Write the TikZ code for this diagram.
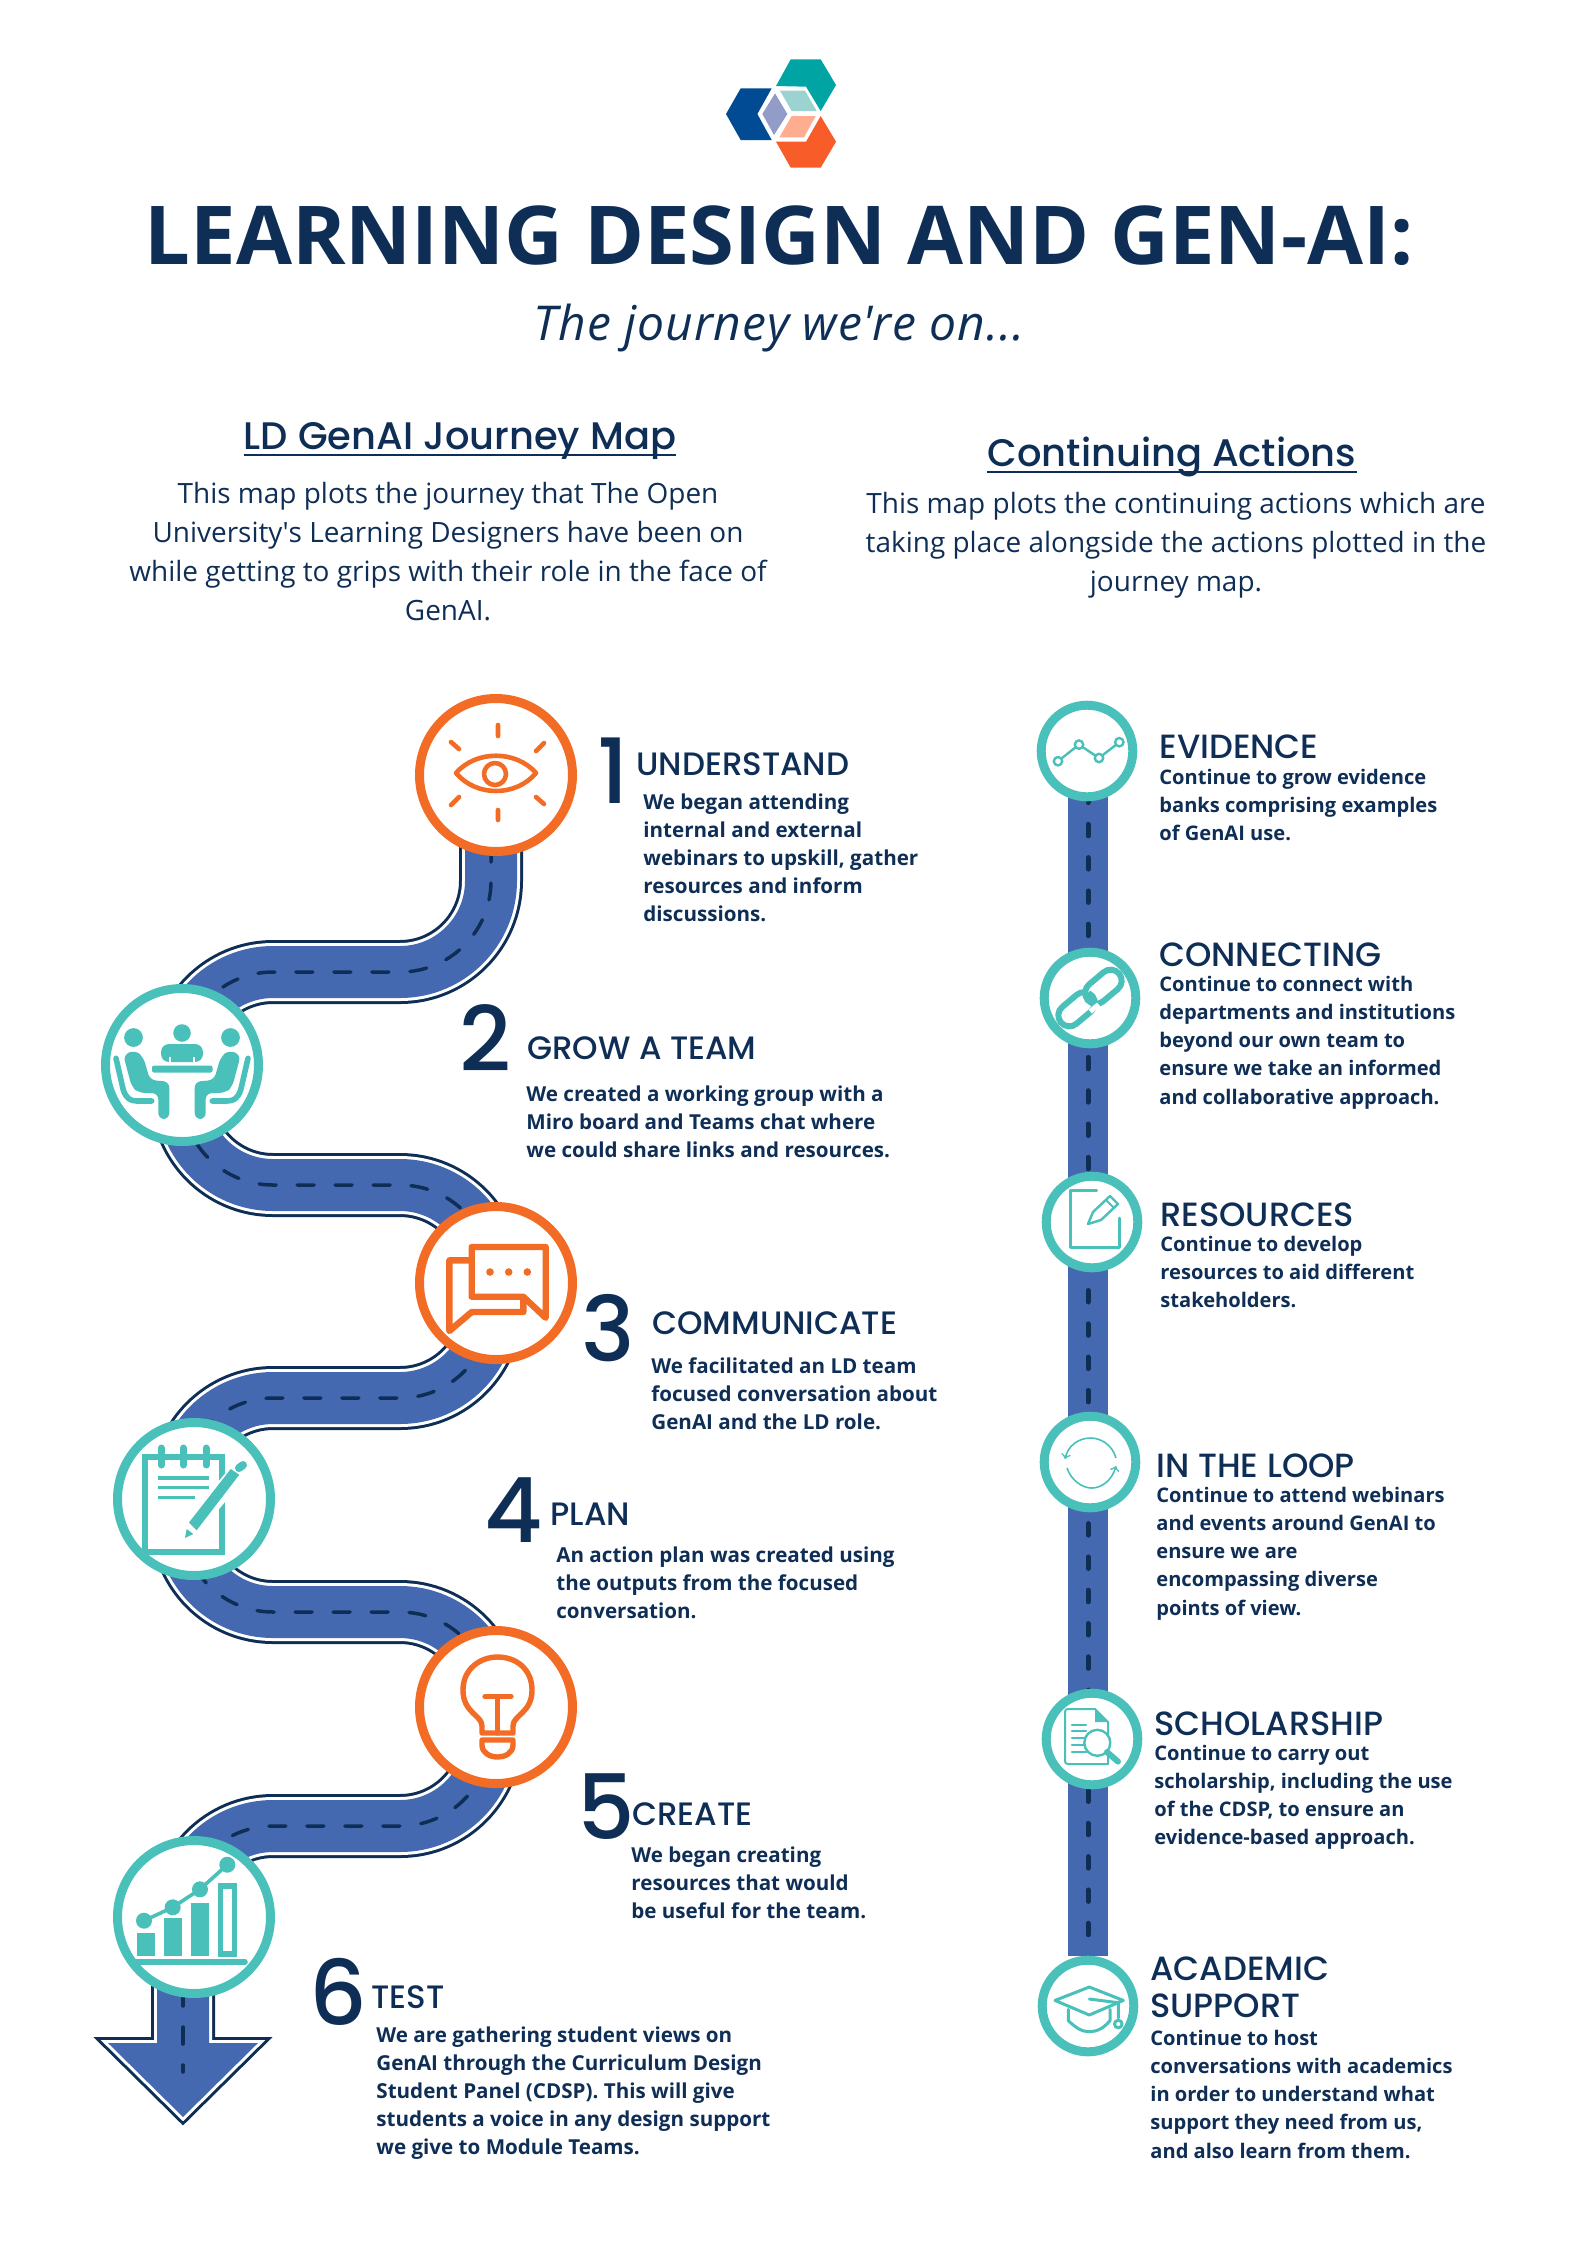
\documentclass[tikz,border=0pt]{standalone}
\usepackage{fontspec}
\setmainfont{Open Sans}
\newfontfamily\headfont{Poppins Medium}
\usetikzlibrary{backgrounds}
\definecolor{navy}{HTML}{0F2E56}
\definecolor{roadblue}{HTML}{4469B0}
\definecolor{tealring}{HTML}{4AC0BA}
\definecolor{orangering}{HTML}{F36C25}

\begin{document}
\begin{tikzpicture}[x=0.5pt,y=-0.5pt,
  bigstop/.style={circle,draw,fill=white,line width=4.5pt,minimum size=76.5pt,inner sep=0pt},
  smallstop/.style={circle,draw=tealring,fill=white,line width=4.5pt,minimum size=45.8pt,inner sep=0pt},
  road/.style={draw=navy,line width=32pt,rounded corners=45.5pt,
    postaction={draw=white,line width=29pt},postaction={draw=roadblue,line width=26pt}},
  lane/.style={draw=navy,line width=1.75pt,line cap=round,rounded corners=45.5pt},
  pointer/.style={draw=navy,line width=6pt,line join=miter,
    postaction={draw=white,line width=3pt},postaction={fill=roadblue,draw=none}},
  digit/.style={text=navy,inner sep=0pt,anchor=base west,font=\headfont\fontsize{45}{45}\selectfont},
  head/.style={text=navy,inner sep=0pt,anchor=base west,align=left,font=\headfont\fontsize{16.2}{18.5}\selectfont},
  sidehead/.style={head,font=\headfont\fontsize{16.8}{18.5}\selectfont},
  blurb/.style={text=navy,inner sep=0pt,anchor=north west,align=left,font=\bfseries\fontsize{10.3}{14.05}\selectfont},
  sideblurb/.style={blurb,font=\bfseries\fontsize{10.05}{14.05}\selectfont},
  intro/.style={text=navy,inner sep=0pt,anchor=north,align=center,font=\fontsize{13.97}{19.55}\selectfont},
  maphead/.style={text=navy,inner sep=0pt,anchor=base,font=\headfont\fontsize{19.2}{22}\selectfont},
  ic/.style={line cap=round,line join=round}]
  \useasboundingbox (0,0) rectangle (1587,2245);

  % logo
  \begin{scope}[shift={(700,40)},x=0.1667pt,y=-0.1667pt]
    \fill[color={rgb,255:red,0;green,165;blue,163}] (228,138) -- (272,58) -- (362,58) -- (408,135) -- (362,213) -- (318,140) -- cycle;
    \fill[color={rgb,255:red,248;green,93;blue,41}] (228,305) -- (272,383) -- (362,383) -- (408,305) -- (362,228) -- (318,305) -- cycle;
    \fill[color={rgb,255:red,0;green,75;blue,147}] (122,145) -- (215,145) -- (172,222) -- (215,300) -- (122,300) -- (78,222) -- cycle;
    \fill[color={rgb,255:red,145;green,156;blue,201}] (225,160) -- (262,222) -- (222,285) -- (187,222) -- cycle;
    \fill[color={rgb,255:red,156;green,211;blue,209}] (240,152) -- (315,152) -- (350,213) -- (275,213) -- cycle;
    \fill[color={rgb,255:red,255;green,173;blue,143}] (275,228) -- (347,228) -- (312,292) -- (238,292) -- cycle;
  \end{scope}

  \node(title)[text=navy,inner sep=0pt,anchor=base,font=\bfseries\fontsize{40.6}{44}\selectfont] at (779,264) {LEARNING DESIGN AND GEN-AI:};
  \node(subtitle)[text=navy,inner sep=0pt,anchor=base,font=\itshape\fontsize{24}{26}\selectfont\addfontfeature{LetterSpace=2}] at (779,340) {The journey we\textquotesingle re on...};

  \node(maptitle)[maphead] at (460,449) {LD GenAI Journey Map};
  \draw[navy,line width=1.1pt] ([yshift=-3pt]maptitle.base west) -- ([yshift=-3pt]maptitle.base east);
  \node(mapintro)[intro] at (448,482) {This map plots the journey that The Open\\University\textquotesingle s Learning Designers have been on\\while getting to grips with their role in the face of\\GenAI.};
  \node(actionstitle)[maphead] at (1172,466) {Continuing Actions};
  \draw[navy,line width=1.1pt] ([yshift=-3pt]actionstitle.base west) -- ([yshift=-3pt]actionstitle.base east);
  \node(actionsintro)[intro] at (1176,492) {This map plots the continuing actions which are\\taking place alongside the actions plotted in the\\journey map.};

  % journey stops
  \node(stop1)[bigstop,draw=orangering] at (496,775) {};
  \node(stop2)[bigstop,draw=tealring] at (182,1065) {};
  \node(stop3)[bigstop,draw=orangering] at (496,1283) {};
  \node(stop4)[bigstop,draw=tealring] at (194,1499) {};
  \node(stop5)[bigstop,draw=orangering] at (496,1707) {};
  \node(stop6)[bigstop,draw=tealring] at (194,1917) {};

  \begin{scope}[on background layer]
    \draw[road] (stop1.center) ++(-5,0) -- ++(0,197) -- ++(-309,0) -- ++(0,93);
    \draw[road] (stop2.center) -- ++(0,120) -- ++(309,0) -- ++(0,98);
    \draw[road] (stop3.center) ++(-5,0) -- ++(0,115) -- ++(-309,0) -- ++(0,101);
    \draw[road] (stop4.center) ++(-12,0) -- ++(0,113) -- ++(309,0) -- ++(0,95);
    \draw[road] (stop5.center) ++(-5,0) -- ++(0,119) -- ++(-309,0) -- ++(0,91);
    \draw[lane,dash pattern=on 8.5pt off 10.5pt,dash phase=3pt] (stop1.center) ++(-5,0) -- ++(0,197) -- ++(-309,0) -- ++(0,93);
    \draw[lane,dash pattern=on 8.5pt off 10.5pt,dash phase=16pt] (stop2.center) -- ++(0,120) -- ++(309,0) -- ++(0,98);
    \draw[lane,dash pattern=on 8.5pt off 10.5pt,dash phase=10pt] (stop3.center) ++(-5,0) -- ++(0,115) -- ++(-309,0) -- ++(0,101);
    \draw[lane,dash pattern=on 8.5pt off 10.5pt,dash phase=1.5pt] (stop4.center) ++(-12,0) -- ++(0,113) -- ++(309,0) -- ++(0,95);
    \draw[lane,dash pattern=on 8.5pt off 10.5pt,dash phase=9.5pt] (stop5.center) ++(-5,0) -- ++(0,119) -- ++(-309,0) -- ++(0,91);
    \draw[pointer] (157,1950) -- (157,2043) -- (108,2043) -- (183,2117) -- (258,2043) -- (209,2043) -- (209,1950);
    \draw[lane,dash pattern=on 8.5pt off 10.5pt,dash phase=2pt] (stop6.center) ++(-11,0) -- (183,2072);
  \end{scope}

  % continuing stops
  \node(cont1)[smallstop] at (1087,751) {};
  \node(cont2)[smallstop] at (1090,998) {};
  \node(cont3)[smallstop] at (1092,1222) {};
  \node(cont4)[smallstop] at (1090,1462) {};
  \node(cont5)[smallstop] at (1092,1739) {};
  \node(cont6)[smallstop] at (1088,2006) {};

  \begin{scope}[on background layer]
    \draw[roadblue,line width=20pt] (cont1.center -| cont6.center) -- (cont6);
    \draw[navy,line width=2.5pt,line cap=round,dash pattern=on 5.75pt off 10.9pt,dash phase=13.3pt] (cont1.center -| cont6.center) -- (cont6);
  \end{scope}

  % eye
  \begin{scope}[shift={(stop1)},orangering,ic,line width=2.3pt]
    \draw (-40,-2) .. controls (-20,-25) and (20,-25) .. (40,-2) .. controls (20,22) and (-20,22) .. cycle;
    \draw (-1,-1) circle[radius=5.5pt];
    \draw (2,-50) -- (2,-39) (2,35) -- (2,45) (-45,-33) -- (-37,-26) (48,-32) -- (40,-24) (-37,22) -- (-45,30) (40,22) -- (48,29);
  \end{scope}

  % meeting
  \begin{scope}[shift={(stop2)},tealring]
    \fill (0,-32) circle[radius=4.4pt];
    \fill[rounded corners=4pt] (-21,-3) -- (-21,-21) -- (21,-21) -- (21,-3) -- cycle;
    \draw[white,line width=0.8pt] (-12,-3) -- (-12,-8) (12,-3) -- (12,-8);
    \fill[rounded corners=1pt] (-30,0.5) rectangle (30.5,7.5);
    \foreach \s in {1,-1}{
      \begin{scope}[xscale=\s]
        \fill (-48.5,-27.5) circle[radius=4.7pt];
        \fill[rounded corners=3pt] (-58.7,-10) -- (-47,-15) -- (-38.7,-8) -- (-32,15) -- (-12.7,16.7) -- (-12.7,54) -- (-23.7,54) -- (-23.7,28.3) -- (-43.7,27.7) -- (-50.3,21.7) -- cycle;
        \draw[ic,line width=2.8pt] (-66,-6.7) -- (-58.7,25) .. controls (-56,33) and (-52,36) .. (-45,36) -- (-30.3,36);
      \end{scope}
    }
  \end{scope}

  % speech bubbles
  \begin{scope}[shift={(stop3)},orangering,ic,line width=3.2pt]
    \draw (-24.3,-36) -- (49.7,-36) -- (49.7,34.8) -- (27.3,13.7) -- (-24.3,13.7) -- cycle;
    \draw (-27.7,-22.6) -- (-46.7,-22.6) -- (-46.7,48) -- (-24.3,29) -- (27.3,29) -- (27.3,17.5);
    \foreach \x in {-6,12.7,31.3} \fill (\x,-11) circle[radius=1.9pt];
  \end{scope}

  % notepad
  \begin{scope}[shift={(stop4)},tealring]
    \draw[line width=2.8pt] (-49,-42) rectangle (28,53);
    \draw[white,line width=9pt] (-3,30) -- (44,-27);
    \foreach \x in {-32.7,-10.7,12} \draw[ic,line width=3.5pt] (\x,-51) -- (\x,-34);
    \draw[line width=1.6pt] (-35.7,-21) -- (15.3,-21) (-35.7,-11.3) -- (15.3,-11.3) (-35.7,-1.3) -- (0.7,-1.3);
    \fill (-5,23.5) -- (2.7,31.2) -- (45.3,-24.3) -- (36.7,-30) -- cycle;
    \fill (-9,39) -- (-7.3,30) -- (-0.7,35) -- cycle;
    \draw[ic,line width=4pt] (45,-31) -- (49,-34);
  \end{scope}

  % bulb
  \begin{scope}[shift={(stop5)},orangering,ic,line width=2.7pt]
    \draw (-14,26) -- (-14,19) .. controls (-14,8) and (-33,6) .. (-33,-17) .. controls (-33,-38) and (-16,-50) .. (1.7,-50) .. controls (20,-50) and (36,-38) .. (36,-17) .. controls (36,6) and (17,8) .. (17,19) -- (17,26) -- cycle;
    \draw (-11,-10.4) -- (15,-10.4) (1.7,-10.4) -- (1.7,26);
    \draw (-14,33) -- (17,33) -- (17,38) .. controls (17,46) and (9,50) .. (1.7,50) .. controls (-6,50) and (-14,46) .. (-14,38) -- cycle;
  \end{scope}

  % bar chart
  \begin{scope}[shift={(stop6)},tealring]
    \fill (-57.3,15.7) rectangle (-39,39);
    \fill (-30,1.3) rectangle (-12,39);
    \fill (-3,-13.7) rectangle (15,39);
    \draw[line width=2.6pt] (26.5,-31) rectangle (40.5,37);
    \draw[ic,line width=2.8pt] (-59,45) -- (51,45);
    \draw[line width=1.8pt] (-50,3.7) -- (-21.3,-9.7) -- (6,-27.7) -- (33.3,-52.3);
    \foreach \x/\y in {-50/3.7,-21.3/-9.7,6/-27.7,33.3/-52.3} \fill (\x,\y) circle[radius=4pt];
  \end{scope}

  % trend
  \begin{scope}[shift={(cont1)},tealring,line width=1.2pt]
    \draw (-29,10.2) -- (-8,-6.4) -- (12,7) -- (32.3,-8.8);
    \foreach \x/\y in {-29/10.2,-8/-6.4,12/7,32.3/-8.8} \draw[fill=white] (\x,\y) circle[radius=2.1pt];
  \end{scope}

  % link
  \begin{scope}[shift={(cont2)},tealring,rotate=40]
    \draw[line width=3pt,rounded corners=5.5pt] (-38,-11) rectangle (3,11);
    \draw[white,line width=5.5pt] (2,-11) -- (10,-11);
    \draw[line width=3pt,rounded corners=5.5pt] (-3,-11) rectangle (38,11);
    \draw[white,line width=5.5pt] (-3,8) -- (-3,13);
  \end{scope}

  % edit
  \begin{scope}[shift={(cont3)},tealring,ic,line width=1.5pt]
    \draw (4.7,-32) -- (-21.3,-32) -- (-21.3,25.5) -- (27,25.5) -- (27,-4);
    \draw[line width=1.2pt] (-4,2) -- (1,-10) -- (18,-26) -- (26,-18) -- (9,-2) -- cycle;
    \draw[line width=1pt] (14,-22) -- (22,-14);
  \end{scope}

  % loop
  \begin{scope}[shift={(cont4)},tealring,line width=0.8pt]
    \draw[->] (26,-4) .. controls (22,-18) and (10,-24) .. (0.7,-24) .. controls (-12,-24) and (-22,-16) .. (-25,-3);
    \draw[->] (-23,6) .. controls (-19,18) and (-8,26) .. (1.7,26) .. controls (12,26) and (22,18) .. (26,4);
  \end{scope}

  % document
  \begin{scope}[shift={(cont5)},tealring,ic,line width=1pt]
    \draw (-24,-30) -- (3,-30) -- (16,-17) -- (16,25) -- (-24,25) .. controls (-26,25) and (-27,24) .. (-27,22) -- (-27,-27) .. controls (-27,-29) and (-26,-30) .. (-24,-30);
    \fill (3,-30) -- (16,-17) -- (3,-17) -- cycle;
    \foreach \y in {-14,-8,-1,6,13} \draw[line width=1.1pt] (-20,\y) -- (-6,\y);
    \draw[fill=white,line width=1.2pt] (5.3,3.8) circle[radius=6.5pt];
    \draw[line width=3pt] (15,13) -- (26,22.6);
  \end{scope}

  % cap
  \begin{scope}[shift={(cont6)},tealring,ic,line width=1.5pt]
    \draw (-33,-5.6) -- (1.3,-19) -- (35.3,-5.6) -- (1.3,9) -- cycle;
    \draw (-19.7,3.4) -- (-19.7,14.6) .. controls (-12,22) and (-6,25.7) .. (1.3,25.7) .. controls (9,25.7) and (16,22) .. (22,14.6) -- (22,3.4);
    \draw (1.3,-7) -- (30.3,-3.3) -- (30.3,12);
    \draw (30.3,18) circle[radius=1.9pt];
  \end{scope}

  \node(num1)[digit] at (597,803) {1};
  \node(understand)[head] at (636,775) {UNDERSTAND};
  \node(understandtext)[blurb] at (643,793) {We began attending\\internal and external\\webinars to upskill, gather\\resources and inform\\discussions.};

  \node(num2)[digit] at (459,1071) {2};
  \node(team)[head] at (527,1059) {GROW A TEAM};
  \node(teamtext)[blurb] at (526,1085) {We created a working group with a\\Miro board and Teams chat where\\we could share links and resources.};

  \node(num3)[digit] at (581,1361) {3};
  \node(communicate)[head] at (652,1334) {COMMUNICATE};
  \node(communicatetext)[blurb] at (651,1357) {We facilitated an LD team\\focused conversation about\\GenAI and the LD role.};

  \node(num4)[digit] at (484,1542) {4};
  \node(plan)[head] at (550,1525) {PLAN};
  \node(plantext)[blurb] at (556,1546) {An action plan was created using\\the outputs from the focused\\conversation.};

  \node(num5)[digit] at (577,1839) {5};
  \node(create)[head] at (632,1825) {CREATE};
  \node(createtext)[blurb] at (631,1846) {We began creating\\resources that would\\be useful for the team.};

  \node(num6)[digit] at (309,2025) {6};
  \node(testing)[head] at (371,2008) {TEST};
  \node(testingtext)[blurb] at (376,2026) {We are gathering student views on\\GenAI through the Curriculum Design\\Student Panel (CDSP). This will give\\students a voice in any design support\\we give to Module Teams.};

  \node(evidence)[sidehead] at (1159,758) {EVIDENCE};
  \node(evidencetext)[sideblurb] at (1159,769) {Continue to grow evidence\\banks comprising examples\\of GenAI use.};

  \node(connecting)[sidehead] at (1159,966) {CONNECTING};
  \node(connectingtext)[sideblurb] at (1159,976) {Continue to connect with\\departments and institutions\\beyond our own team to\\ensure we take an informed\\and collaborative approach.};

  \node(resources)[sidehead] at (1160,1226) {RESOURCES};
  \node(resourcestext)[sideblurb] at (1160,1236) {Continue to develop\\resources to aid different\\stakeholders.};

  \node(loop)[sidehead] at (1156,1477) {IN THE LOOP};
  \node(looptext)[sideblurb] at (1156,1487) {Continue to attend webinars\\and events around GenAI to\\ensure we are\\encompassing diverse\\points of view.};

  \node(scholarship)[sidehead] at (1154,1735) {SCHOLARSHIP};
  \node(scholarshiptext)[sideblurb] at (1154,1745) {Continue to carry out\\scholarship, including the use\\of the CDSP, to ensure an\\evidence-based approach.};

  \node(academic)[sidehead,anchor=north west] at (1150,1956) {ACADEMIC\\SUPPORT};
  \node(academictext)[sideblurb] at (1150,2030) {Continue to host\\conversations with academics\\in order to understand what\\support they need from us,\\and also learn from them.};
\end{tikzpicture}
\end{document}
